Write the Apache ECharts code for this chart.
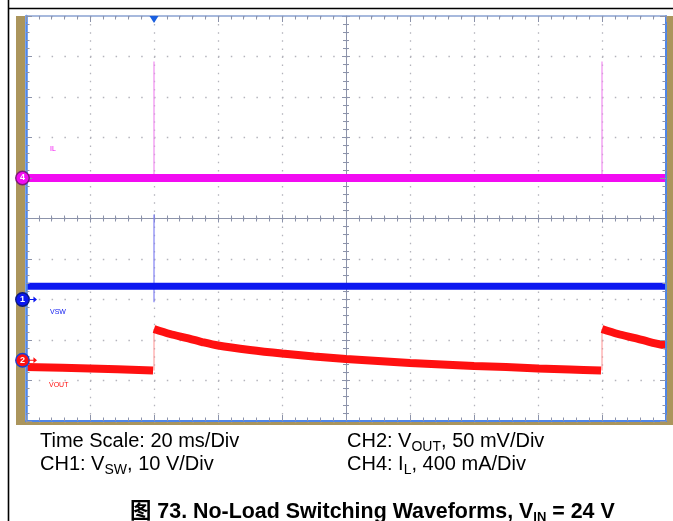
<!DOCTYPE html>
<html><head><meta charset="utf-8">
<script src="https://cdn.jsdelivr.net/npm/echarts@6/dist/echarts.min.js"></script>
<style>html,body{margin:0;padding:0;background:#fff;}#c{width:673px;height:521px;}</style>
</head><body><div id="c"></div>
<script>
// ---- time base: 20 ms/div, trigger at t = 0 ----
const timeMin = -40, timeMax = 160, timeStep = 20;
const divMin = -5, divMax = 5;

// ---- channel settings: scale per div and reference (divisions) ----
const chLabels  = ['1', '2', '4'];
const chNames   = ['VSW', 'VOUT', 'IL'];
const chScales  = [10, 50, 400];       // V/div, mV/div, mA/div
const chOffsets = [-2, -3.5, 1];       // reference marker position (div)
const chColors  = ['#0c18f0', '#ff1010', '#f20cf2'];
const chEdgeColors = ['#8080f4', '#ff9090', '#f08cf0'];

// CH4: IL (mA)
const ilTimes  = [-40, 160];
const ilValues = [0, 0];
const ilSpikeTimes = [0, 140];
const ilSpikePeaks = [1150, 1150];

// CH1: VSW (V)
const vswTimes  = [-40, 160];
const vswValues = [3.3, 3.3];
const vswSpikeTimes = [0];
const vswSpikeHigh  = [21];
const vswSpikeLow   = [-0.7];

// CH2: VOUT (mV, ripple)
const voutTimes1  = [-40, -20, -0.3];
const voutValues1 = [-8.3, -10.2, -12.7];
const voutTimes2  = [0, 5, 10, 15, 20, 30, 40, 50, 60, 70, 80, 90, 100, 110, 120, 130, 139.7];
const voutValues2 = [38.6, 32.4, 27.5, 22.5, 18.2, 12.7, 8.3, 4.6, 1.5, -0.9, -3.4, -5.2, -7.1, -8.3, -10.2, -11.4, -12.7];
const voutTimes3  = [140, 145, 150, 155, 160];
const voutValues3 = [38.6, 32.4, 27.5, 22.5, 18.2];

function toDiv(v, ch) { return chOffsets[ch] + v / chScales[ch]; }
function pts(ts, vs, ch) { return ts.map((t, i) => [t, toDiv(vs[i], ch)]); }

const chart = echarts.init(document.getElementById('c'), null, {renderer: 'canvas'});
const tickColor = '#8c93aa';
const dotColor = '#b4b4bc';

function xAx(opt) {
  return Object.assign({
    type: 'value', min: timeMin, max: timeMax, interval: timeStep,
    axisLabel: {show: false}, splitLine: {show: false},
    axisLine: {onZero: false, lineStyle: {color: '#4f86e8', width: 2}},
    axisTick: {show: true, inside: true, length: 6, lineStyle: {color: tickColor}},
    minorTick: {show: true, splitNumber: 5, length: 3.5, lineStyle: {color: tickColor}},
    z: 5
  }, opt);
}
function yAx(opt) {
  return Object.assign({
    type: 'value', min: divMin, max: divMax, interval: 1,
    axisLabel: {show: false}, splitLine: {show: false},
    axisLine: {onZero: false, lineStyle: {color: '#4f86e8', width: 2}},
    axisTick: {show: true, inside: true, length: 6, lineStyle: {color: tickColor}},
    minorTick: {show: true, splitNumber: 5, length: 3.5, lineStyle: {color: tickColor}},
    z: 5
  }, opt);
}
const centerTicks = (inside) => ({
  axisTick: {show: true, inside: inside, length: 4, lineStyle: {color: tickColor}},
  minorTick: {show: true, splitNumber: 5, length: 3, lineStyle: {color: tickColor}}
});

const series = [];
const lineBase = {type: 'line', symbol: 'none', silent: true, animation: false, xAxisIndex: 0, yAxisIndex: 0};

// IL spikes (thin)
ilSpikeTimes.forEach((t, i) => {
  series.push(Object.assign({}, lineBase, {
    data: [[t, toDiv(0, 2)], [t, toDiv(ilSpikePeaks[i], 2)]],
    lineStyle: {color: chEdgeColors[2], width: 1.2}, z: 3
  }));
});
// VSW spikes (thin)
vswSpikeTimes.forEach((t, i) => {
  series.push(Object.assign({}, lineBase, {
    data: [[t, toDiv(vswSpikeLow[i], 0)], [t, toDiv(vswSpikeHigh[i], 0)]],
    lineStyle: {color: chEdgeColors[0], width: 1.2}, z: 3
  }));
});
// IL band
series.push(Object.assign({}, lineBase, {data: pts(ilTimes, ilValues, 2), lineStyle: {color: chColors[2], width: 8, cap: 'butt'}, z: 4}));
// VSW band
series.push(Object.assign({}, lineBase, {data: pts(vswTimes, vswValues, 0), lineStyle: {color: chColors[0], width: 7, cap: 'butt'}, z: 4}));
// VOUT edges (thin)
series.push(Object.assign({}, lineBase, {data: [[0, toDiv(voutValues1[voutValues1.length-1], 1)], [0, toDiv(voutValues2[0], 1)]], lineStyle: {color: chEdgeColors[1], width: 1}, z: 3}));
series.push(Object.assign({}, lineBase, {data: [[140, toDiv(voutValues2[voutValues2.length-1], 1)], [140, toDiv(voutValues3[0], 1)]], lineStyle: {color: chEdgeColors[1], width: 1}, z: 3}));
// VOUT bands
[[voutTimes1, voutValues1], [voutTimes2, voutValues2], [voutTimes3, voutValues3]].forEach(s => {
  series.push(Object.assign({}, lineBase, {data: pts(s[0], s[1], 1), smooth: 0.3, lineStyle: {color: chColors[1], width: 8, cap: 'butt'}, z: 4}));
});

// channel reference markers
const markerBorders = ['#0a1a80', '#1a40d0', '#7a1a7a'];
chLabels.forEach((lab, i) => {
  series.push({
    type: 'scatter', xAxisIndex: 0, yAxisIndex: 0, silent: true, animation: false, clip: false,
    data: [[timeMin, chOffsets[i]]], symbol: 'circle', symbolSize: 13.5, symbolOffset: [-3.5, 0],
    itemStyle: {color: chColors[i], borderColor: markerBorders[i], borderWidth: 1.4, opacity: 1},
    label: {show: true, position: 'inside', formatter: lab, color: '#fff', fontSize: 9, fontWeight: 'bold', fontFamily: 'Liberation Sans'},
    z: 20
  });
  if (lab !== '4') {
    series.push({
      type: 'scatter', xAxisIndex: 0, yAxisIndex: 0, silent: true, animation: false, clip: false,
      data: [[timeMin, chOffsets[i]]],
      symbol: 'path://M0,3.2 L5,3.2 L5,0 L9,4 L5,8 L5,4.8 L0,4.8 Z', symbolSize: [8, 6], symbolOffset: [7, 0],
      itemStyle: {color: chColors[i], opacity: 1}, z: 20
    });
  }
});
// trigger marker
series.push({
  type: 'scatter', xAxisIndex: 0, yAxisIndex: 0, silent: true, animation: false, clip: false,
  data: [[0, divMax]], symbol: 'triangle', symbolRotate: 180, symbolSize: [9, 7], symbolOffset: [0, 3.5],
  itemStyle: {color: '#1a5fe0', opacity: 1}, z: 20
});

const txt = (x, y, text, color, size) => ({type: 'text', left: x, top: y, z: 100, silent: true,
  style: {text: text, fill: color, font: size + 'px "Liberation Sans", Arial, sans-serif'}});

const richBase = {
  n: {fontSize: 20, lineHeight: 26, fontFamily: 'Liberation Sans', color: '#111'},
  s: {fontSize: 14, lineHeight: 14, fontFamily: 'Liberation Sans', color: '#111', verticalAlign: 'bottom'}
};
const richText = (x, y, text) => ({type: 'text', left: x, top: y, z: 100, silent: true,
  style: {text: text, rich: richBase}});

const option = {
  animation: false,
  backgroundColor: '#fff',
  grid: {left: 26, right: 7, top: 16, bottom: 100, show: false},
  xAxis: [
    xAx({position: 'bottom'}),
    xAx({position: 'top', axisLine: {onZero: false, lineStyle: {color: '#8aa2d2', width: 1.5}}}),
    xAx(Object.assign({position: 'bottom', offset: -202.5, z: 2, axisLine: {onZero: false, lineStyle: {color: tickColor, width: 1}}}, centerTicks(true))),
    xAx(Object.assign({position: 'bottom', offset: -202.5, z: 2, axisLine: {show: false, onZero: false}}, centerTicks(false))),
    xAx({position: 'bottom', z: 1, axisLine: {show: false, onZero: false}, axisTick: {show: false}, minorTick: {show: false},
         splitLine: {show: true, lineStyle: {color: dotColor, width: 1.3, type: [1.5, 6.6]}}})
  ],
  yAxis: [
    yAx({position: 'left', axisLine: {onZero: false, lineStyle: {color: '#4f86e8', width: 2.5}}}),
    yAx({position: 'right'}),
    yAx(Object.assign({position: 'left', offset: -320, z: 2, axisLine: {onZero: false, lineStyle: {color: tickColor, width: 1}}}, centerTicks(true))),
    yAx(Object.assign({position: 'left', offset: -320, z: 2, axisLine: {show: false, onZero: false}}, centerTicks(false))),
    yAx({position: 'left', z: 1, axisLine: {show: false, onZero: false}, axisTick: {show: false}, minorTick: {show: false},
         splitLine: {show: true, lineStyle: {color: dotColor, width: 1.3, type: [1.5, 11.3]}}})
  ],
  series: series,
  graphic: [
    {type: 'rect', shape: {x: 16, y: 16, width: 9, height: 409}, style: {fill: '#ab955c'}, z: -10, silent: true},
    {type: 'rect', shape: {x: 16, y: 421, width: 657, height: 4}, style: {fill: '#ab955c'}, z: -10, silent: true},
    {type: 'rect', shape: {x: 667, y: 16, width: 6, height: 409}, style: {fill: '#ab955c'}, z: -10, silent: true},
    {type: 'line', shape: {x1: 8.5, y1: 0, x2: 8.5, y2: 521}, style: {stroke: '#000', lineWidth: 1.6}, z: 100, silent: true},
    {type: 'line', shape: {x1: 8, y1: 8.5, x2: 673, y2: 8.5}, style: {stroke: '#000', lineWidth: 1.6}, z: 100, silent: true},
    txt(50, 146, 'IL', chColors[2], 7),
    txt(50, 309, 'VSW', chColors[0], 7),
    txt(49, 382, 'VOUT', chColors[1], 7),
    richText(40, 431, '{n|Time Scale: 20 ms/Div}'),
    richText(40, 454, '{n|CH1: V}{s|SW}{n|, 10 V/Div}'),
    richText(347, 431, '{n|CH2: V}{s|OUT}{n|, 50 mV/Div}'),
    richText(347, 454, '{n|CH4: I}{s|L}{n|, 400 mA/Div}'),
    {type: 'text', left: 130, top: 501, z: 100, silent: true,
      style: {text: '{b|图 73. No-Load Switching Waveforms, V}{bs|IN}{b| = 24 V}',
        rich: {
          b: {fontSize: 21.4, lineHeight: 25, fontWeight: 'bold', fontFamily: '"Liberation Sans", "Noto Sans CJK SC"', color: '#111'},
          bs: {fontSize: 13, lineHeight: 13, fontWeight: 'bold', fontFamily: 'Liberation Sans', color: '#111', verticalAlign: 'bottom'}
        }}}
  ]
};
chart.setOption(option);
</script>
</body></html>
